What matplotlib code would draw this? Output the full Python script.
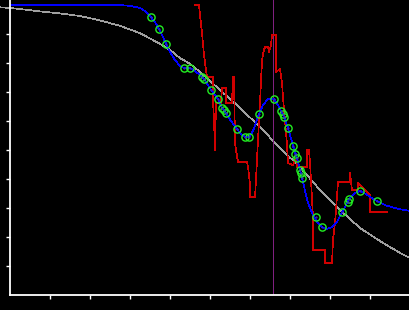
"""Sigmoid fit over noisy samples: smoothed curve, raw trace and sample points."""
import matplotlib
matplotlib.use("Agg")
import matplotlib.pyplot as plt

# grey reference curve (logistic-looking fit)
FIT_X = [-0.25, 0.0, 0.25, 0.75, 1.25, 1.75, 2.25, 2.75, 3.25, 3.75, 4.0, 4.25,
         4.5, 4.75, 5.25, 5.75, 6.25, 6.75, 7.25, 7.75, 8.25, 8.75, 9.25, 9.75, 10.0]
FIT_Y = [9.92, 9.90, 9.86, 9.78, 9.71, 9.62, 9.47, 9.28, 9.03, 8.66, 8.45, 8.17,
         7.97, 7.69, 7.07, 6.45, 5.79, 5.07, 4.41, 3.62, 2.93, 2.31, 1.86, 1.45, 1.28]

# blue smoothed curve
SMOOTH_X = [0.0, 2.83, 3.0, 3.25, 3.375, 3.5, 3.625, 3.725, 3.825, 3.9, 4.0, 4.125,
            4.25, 4.35, 4.5, 4.625, 4.75, 4.875, 5.025, 5.2, 5.3, 5.4, 5.525, 5.675,
            5.775, 5.875, 5.975, 6.075, 6.225, 6.325, 6.45, 6.6, 6.7, 6.775, 6.85,
            6.95, 7.0, 7.075, 7.175, 7.25, 7.3, 7.45, 7.575, 7.7, 7.8, 7.925, 8.05,
            8.175, 8.3, 8.375, 8.475, 8.625, 8.75, 8.825, 9.0, 9.175, 9.375, 9.7, 10.0]
SMOOTH_Y = [9.99, 9.99, 9.97, 9.90, 9.79, 9.62, 9.41, 9.17, 8.90, 8.66, 8.38, 8.10,
            7.90, 7.83, 7.83, 7.72, 7.59, 7.41, 7.07, 6.76, 6.45, 6.28, 6.00, 5.72,
            5.55, 5.45, 5.45, 5.66, 6.24, 6.55, 6.76, 6.76, 6.55, 6.34, 6.14,
            5.76, 5.52, 5.14, 4.72, 4.31, 4.03, 3.17, 2.76, 2.48, 2.34, 2.28, 2.34,
            2.52, 2.86, 3.03, 3.31, 3.52, 3.59, 3.55, 3.38, 3.24, 3.10, 2.97, 2.90]

# red raw trace
RAW_X = [4.625, 4.725, 4.75, 4.8, 4.85, 4.9, 4.925, 5.075, 5.075, 5.1, 5.125, 5.15,
         5.275, 5.3, 5.4, 5.4, 5.55, 5.575, 5.6, 5.625, 5.65, 5.7, 5.925, 5.95,
         5.975, 6.0, 6.0, 6.125, 6.15, 6.175, 6.2, 6.225, 6.25, 6.275, 6.3, 6.325,
         6.375, 6.45, 6.475, 6.525, 6.55, 6.65, 6.65, 6.75, 6.8, 6.825, 6.85, 6.875,
         6.925, 6.95, 7.075, 7.125, 7.175, 7.175, 7.425, 7.425, 7.475, 7.5, 7.525,
         7.55, 7.575, 7.575, 7.875, 7.875, 8.05, 8.075, 8.125, 8.15, 8.2, 8.5, 8.5,
         8.55, 8.7, 8.7, 9.0, 9.0, 9.425]
RAW_Y = [10.0, 10.0, 9.66, 9.03, 8.28, 7.76, 7.52, 7.52, 6.72, 6.03, 5.0, 6.62,
         6.62, 7.14, 7.14, 6.62, 6.62, 7.52, 7.52, 5.24, 5.0, 4.59, 4.59, 4.41,
         4.14, 3.79, 3.38, 3.38, 3.97, 4.66, 5.34, 6.03, 6.62, 7.41, 8.03, 8.34,
         8.55, 8.55, 8.38, 8.62, 8.97, 8.97, 7.69, 7.79, 7.31, 6.83, 6.38, 6.03,
         5.17, 4.55, 4.48, 4.66, 4.66, 4.41, 4.41, 5.0, 5.0, 4.55, 3.97,
         3.28, 2.69, 1.55, 1.55, 1.10, 1.10, 1.90, 2.48, 2.93, 3.90, 3.90, 4.21,
         3.62, 3.62, 3.86, 3.45, 2.86, 2.86]

# green sample points
PTS_X = [3.525, 3.725, 3.9, 4.35, 4.5, 4.8, 4.85, 5.025, 5.2, 5.3, 5.35, 5.4,
         5.675, 5.875, 5.975, 6.225, 6.6, 6.775, 6.825, 6.85, 6.95, 7.075, 7.125,
         7.175, 7.25, 7.275, 7.3, 7.65, 7.8, 8.3, 8.45, 8.475, 8.75, 9.175]
PTS_Y = [9.59, 9.17, 8.66, 7.83, 7.83, 7.52, 7.45, 7.07, 6.76, 6.45, 6.38, 6.28,
         5.72, 5.45, 5.45, 6.24, 6.76, 6.34, 6.24, 6.14, 5.76, 5.14, 4.86,
         4.72, 4.31, 4.21, 4.03, 2.69, 2.34, 2.86, 3.21, 3.31, 3.59, 3.24]

MARKER_X = 6.575
TICKS = [1, 2, 3, 4, 5, 6, 7, 8, 9]
LW = 0.5  # renders as a single pixel without antialiasing


def main() -> None:
    fig = plt.figure(figsize=(4.1, 3.1), dpi=100, facecolor="black")
    ax = fig.add_axes([10 / 410, 15 / 310, 400 / 410, 295 / 310])
    ax.set_facecolor("black")

    # the reference looks pixel-crisp, so no antialiasing on the marks
    ax.plot(FIT_X, FIT_Y, color="#a0a0a0", lw=LW, clip_on=False, antialiased=False)
    ax.axvline(MARKER_X, color="#802080", lw=0.72, antialiased=False)
    ax.plot(RAW_X, RAW_Y, color="#d00000", lw=LW, antialiased=False)
    ax.plot(SMOOTH_X, SMOOTH_Y, color="#0000ff", lw=LW, antialiased=False)
    ax.plot(PTS_X, PTS_Y, linestyle="none", marker="o", ms=5.2,
            mfc="none", mec="#22ee22", mew=1.0)
    ax.plot(PTS_X, PTS_Y, linestyle="none", marker=".", ms=1.2, color="#3030c0")

    ax.set_xlim(0, 10)
    ax.set_ylim(0, 295 / 29)
    ax.set_xticks(TICKS)
    ax.set_yticks(TICKS)
    ax.set_xticklabels([])
    ax.set_yticklabels([])
    ax.tick_params(colors="white", length=3, width=1.0, direction="out")
    for side in ("top", "right"):
        ax.spines[side].set_visible(False)
    for side in ("left", "bottom"):
        ax.spines[side].set_color("white")
        ax.spines[side].set_linewidth(1.3)

    fig.savefig("out.png", dpi=100, facecolor="black")
    plt.close(fig)


if __name__ == "__main__":
    main()
